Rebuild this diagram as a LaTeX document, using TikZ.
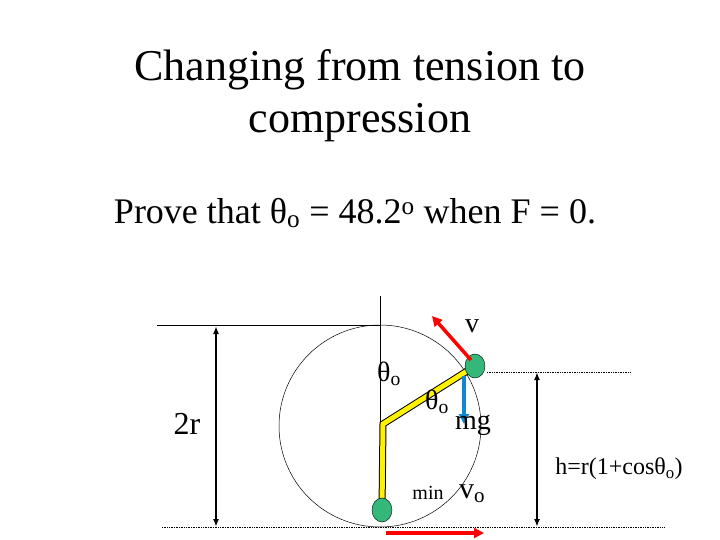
\documentclass[tikz,border=0pt]{standalone}
\usepackage{fontspec}
\setmainfont{Liberation Serif}
\usetikzlibrary{shapes.geometric,arrows.meta}
\begin{document}
\begin{tikzpicture}[x=1pt,y=-1pt,
  lbl/.style={inner sep=0pt,font=\fontsize{28}{30}\selectfont},
  dim/.style={line width=1.6pt,{Latex[length=8pt,width=6pt]}-{Latex[length=8pt,width=6pt]}},
  dotl/.style={densely dotted,line width=0.7pt},
  ball/.style={ellipse,draw,fill=teal!70!green!80!white,minimum width=20pt,minimum height=24pt,inner sep=0pt},
  rod/.style={line width=7pt,draw=black},
  rodin/.style={line width=5pt,draw=yellow},
  vec/.style={line width=3.5pt,-{Triangle[length=10pt,width=10pt]}}]
\useasboundingbox (0,0) rectangle (720,540);
\node[inner sep=0pt,align=center,font=\fontsize{44}{52}\selectfont] (title) at (360,96) {Changing from tension to\\compression};
\node[inner sep=0pt,font=\fontsize{36}{40}\selectfont] (prove) at (355,213) {Prove that θ\textsubscript{o} = 48.2\textsuperscript{o} when F = 0.};
\coordinate (c) at (380,426);
\draw[line width=0.5pt] (c) circle (101);
\coordinate (vtop) at (380,296);
\draw[line width=0.6pt] (vtop) -- (c);
\coordinate (tl) at (157,325); \coordinate (tr) at (380,325);
\draw[line width=0.7pt] (tl) -- (tr);
\coordinate (bl) at (162,527); \coordinate (br) at (665,527);
\draw[dotl] (bl) -- (br);
\coordinate (rl) at (487,372); \coordinate (rr) at (630,372);
\draw[dotl] (rl) -- (rr);
\coordinate (t2) at (216,326); \coordinate (b2) at (216,527);
\draw[dim] (t2) -- (b2);
\coordinate (t3) at (537,372); \coordinate (b3) at (537,527);
\draw[dim] (t3) -- (b3);
\coordinate (piv) at (383,424);
\coordinate (bt) at (475,366);
\coordinate (bb) at (382,510);
\draw[rod] (bt) -- (piv) -- (bb);
\draw[rodin] (bt) -- (piv) -- (bb);
\node[ball] (balltop) at (bt) {};
\node[ball] (ballbot) at (bb) {};
\coordinate (vs) at (471,360); \coordinate (ve) at (432,316);
\draw[red,vec] (vs) -- (ve);
\coordinate (gs) at (464,376); \coordinate (ge) at (464,424);
\draw[cyan!70!blue,vec] (gs) -- (ge);
\coordinate (hs) at (386,533); \coordinate (he) at (484,533);
\draw[red,vec] (hs) -- (he);
\node[lbl] (v) at (472,326) {v};
\node[lbl] (th1) at (389,374) {θ\textsubscript{o}};
\node[lbl] (th2) at (437,402) {θ\textsubscript{o}};
\node[lbl] (mg) at (473,425) {mg};
\node[lbl,font=\fontsize{32}{34}\selectfont] (tr2) at (187,424) {2r};
\node[lbl,font=\fontsize{24}{26}\selectfont] (h) at (619,469) {h=r(1+cosθ\textsubscript{o})};
\node[lbl,font=\fontsize{20}{22}\selectfont] (min) at (428,493) {min};
\node[lbl,font=\fontsize{30}{32}\selectfont] (vo) at (472,494) {v\textsubscript{o}};
\end{tikzpicture}
\end{document}
